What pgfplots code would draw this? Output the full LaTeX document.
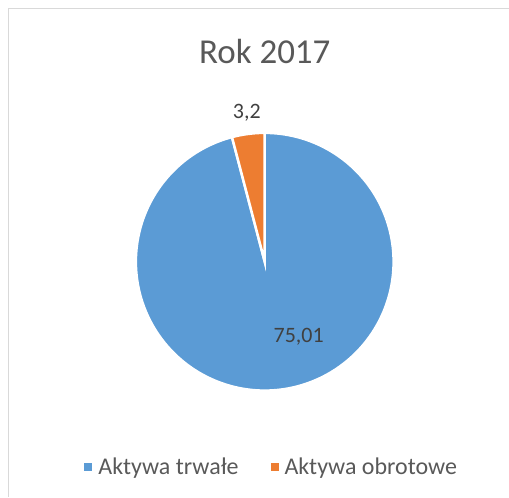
\documentclass[border=0pt]{standalone}
\usepackage{fontspec}
\setmainfont{Carlito}
\usepackage{pgfplots}
\pgfplotsset{compat=1.18}
\definecolor{pieblue}{HTML}{5B9BD5}
\definecolor{pieorange}{HTML}{ED7D31}
\definecolor{txtgray}{HTML}{595959}
\definecolor{lblgray}{HTML}{404040}
\definecolor{framegray}{HTML}{D9D9D9}
\def\valA{75.01}
\def\valB{3.2}
\pgfmathsetmacro{\total}{\valA+\valB}
\pgfmathsetmacro{\angB}{\valB/\total*360}
\pgfmathsetmacro{\endB}{90+\angB}
\pgfmathsetmacro{\endA}{450}
\begin{document}
\begin{tikzpicture}
\begin{axis}[
  scale only axis, width=509pt, height=497pt,
  xmin=0, xmax=509, ymin=0, ymax=497,
  hide axis, clip=false,
  legend columns=2,
  legend style={draw=none, fill=none, at={(axis cs:272,30)}, anchor=center,
    font=\fontsize{24}{26}\selectfont\color{txtgray},
    /tikz/every even column/.append style={column sep=30pt}},
  legend image code/.code={\fill[#1, draw=none] (0pt,-4pt) rectangle (8pt,4pt); \path[draw=none, fill=none] (12pt,0pt) circle (0pt);},
]
\path (axis cs:0,0) rectangle (axis cs:509,497);
\draw[framegray, line width=1pt] (axis cs:9,0) -- (axis cs:9,488) -- (axis cs:509,488);
\addplot[fill=pieblue, draw=white, line width=2.5pt, samples=200, domain=\endB:\endA]
  ({265+129*cos(x)}, {235+129*sin(x)}) -- (axis cs:265,235) -- cycle;
\addlegendentry{Aktywa trwałe}
\addplot[fill=pieorange, draw=white, line width=2.5pt, samples=30, domain=90:\endB]
  ({265+129*cos(x)}, {235+129*sin(x)}) -- (axis cs:265,235) -- cycle;
\addlegendentry{Aktywa obrotowe}
\node[txtgray, font=\fontsize{35}{38}\selectfont] at (axis cs:265,445) {Rok 2017};
\node[lblgray, font=\fontsize{22}{24}\selectfont] at (axis cs:247,384) {3,2};
\node[lblgray, font=\fontsize{22}{24}\selectfont] at (axis cs:299,160) {75,01};
\end{axis}
\end{tikzpicture}
\end{document}
